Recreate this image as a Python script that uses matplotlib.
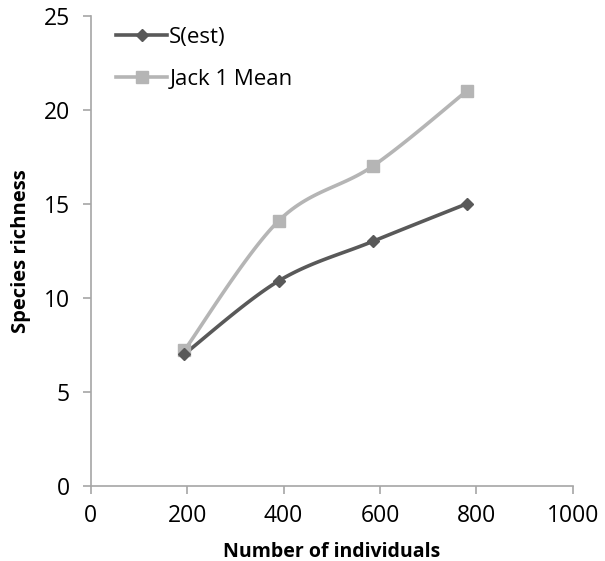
import numpy as np
import matplotlib
matplotlib.use("Agg")
import matplotlib.pyplot as plt
from matplotlib.lines import Line2D

plt.rcParams['font.family'] = ['Open Sans', 'DejaVu Sans']

individuals = [194, 390, 585, 780]
s_est = [7.0, 10.9, 13.0, 15.0]
jack1 = [7.2, 14.1, 17.0, 21.0]
series_names = ["S(est)", "Jack 1 Mean"]
x_ticks = [0, 200, 400, 600, 800, 1000]
y_ticks = [0, 5, 10, 15, 20, 25]


def smooth(xs, ys, n=30):
    """Catmull-Rom rendering of a line through the given points (Excel-style smoothing)."""
    xs = np.asarray(xs, float)
    ys = np.asarray(ys, float)
    P = np.column_stack([xs, ys])
    P = np.vstack([P[0], P, P[-1]])
    out = []
    t = np.linspace(0, 1, n)
    for i in range(1, len(P) - 2):
        p0, p1, p2, p3 = P[i - 1], P[i], P[i + 1], P[i + 2]
        c1 = p1 + (p2 - p0) / 6
        c2 = p2 - (p3 - p1) / 6
        seg = ((1 - t) ** 3)[:, None] * p1 + (3 * (1 - t) ** 2 * t)[:, None] * c1 \
            + (3 * (1 - t) * t ** 2)[:, None] * c2 + (t ** 3)[:, None] * p2
        out.append(seg)
    seg = np.vstack(out)
    return seg[:, 0], seg[:, 1]


fig = plt.figure(figsize=(6.05, 5.61), dpi=100)
ax = fig.add_axes([0.150, 0.134, 0.797, 0.838])

dark = "#595959"
light = "#b5b5b5"

for ys, col, mk, ms, name in [(jack1, light, "s", 8, series_names[1]),
                              (s_est, dark, "D", 6.5, series_names[0])]:
    sx, sy = smooth(individuals, ys)
    ax.plot(sx, sy, color=col, lw=2.6, solid_capstyle="round", zorder=2)
    ax.plot(individuals, ys, linestyle="none", marker=mk, ms=ms, color=col, zorder=3)

ax.set_xlim(0, 1000)
ax.set_ylim(0, 25)
ax.set_xticks(x_ticks)
ax.set_yticks(y_ticks)

for s in ["top", "right"]:
    ax.spines[s].set_visible(False)
for s in ["left", "bottom"]:
    ax.spines[s].set_color("#a6a6a6")
    ax.spines[s].set_linewidth(1.2)
ax.tick_params(axis="both", colors="#a6a6a6", length=6, width=1.2, direction="out",
               labelsize=16.5, labelcolor="black")
ax.tick_params(axis="x", pad=7)
ax.tick_params(axis="y", pad=9)

ax.set_xlabel("Number of individuals", fontsize=14, fontweight="bold", labelpad=10)
ax.set_ylabel("Species richness", fontsize=14.5, fontweight="bold", labelpad=9)

handles = [Line2D([], [], color=dark, lw=2.6, marker="D", ms=6.5),
           Line2D([], [], color=light, lw=2.6, marker="s", ms=8)]
ax.legend(handles, series_names, loc="upper left", bbox_to_anchor=(0.02, 1.01),
          frameon=False, fontsize=16, handlelength=2.3, handletextpad=0.1,
          labelspacing=0.95, borderaxespad=0.3)

fig.savefig("out.png", dpi=100)
